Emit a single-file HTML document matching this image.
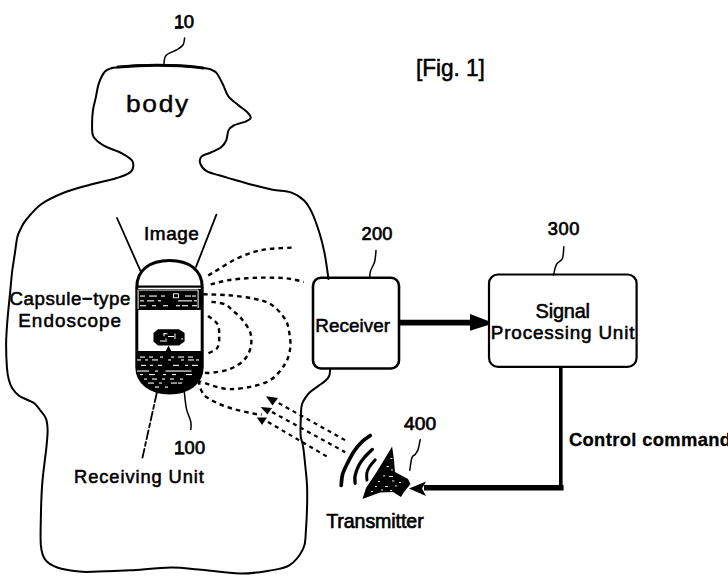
<!DOCTYPE html><html><head><meta charset="utf-8"><style>

html,body{margin:0;padding:0;background:#fff;}
#c{position:relative;width:728px;height:578px;overflow:hidden;background:#fff;}
svg{position:absolute;left:0;top:0;}
.t{position:absolute;transform-origin:0 0;font-family:"Liberation Sans",sans-serif;color:#000;white-space:nowrap;line-height:1;}

</style></head><body><div id="c">
<svg width="728" height="578" viewBox="0 0 728 578">
<g fill="none" stroke="#000" stroke-linecap="round" stroke-linejoin="round">
<path d="M112.0 68.0 C115.8 67.6 127.8 66.1 135.0 65.6 C142.2 65.1 147.5 64.9 155.0 64.9 C162.5 64.9 171.3 65.2 180.0 65.8 C188.7 66.4 201.6 67.7 207.0 68.4 C212.4 69.2 210.8 69.5 212.5 70.3 C214.2 71.1 215.2 71.0 217.0 73.5 C218.8 76.0 221.3 81.2 223.2 85.0 C225.1 88.8 226.0 93.1 228.4 96.4 C230.8 99.7 234.7 102.1 237.8 104.7 C240.9 107.3 244.9 109.8 247.1 112.0 C249.2 114.2 250.9 116.2 250.7 117.8 C250.5 119.3 248.9 120.0 246.1 121.3 C243.2 122.6 236.5 124.0 233.6 125.5 C230.7 127.0 229.6 128.2 228.4 130.6 C227.2 133.0 227.6 137.2 226.4 140.0 C225.2 142.8 223.8 145.2 221.2 147.3 C218.6 149.4 214.1 150.9 210.8 152.5 C207.5 154.1 203.1 154.7 201.4 156.6 C199.7 158.5 199.5 161.5 200.4 163.9 C201.3 166.3 203.5 169.3 206.6 171.2 C209.7 173.1 214.6 173.9 219.1 175.3 C223.6 176.7 228.1 177.9 233.6 179.5 C239.1 181.1 245.4 183.0 251.9 184.7 C258.4 186.4 266.2 188.5 272.7 189.8 C279.2 191.1 285.6 190.7 290.8 192.4 C296.0 194.1 300.3 196.9 303.8 200.2 C307.3 203.4 309.0 206.5 311.6 211.9 C314.2 217.3 317.2 225.8 319.4 232.7 C321.6 239.6 323.1 245.7 324.6 253.4 C326.1 261.1 327.9 274.7 328.5 279.0" stroke-width="2.0"/>
<path d="M330.2 369.5 C330.0 370.6 330.0 374.1 329.2 376.0 C328.4 377.9 327.0 379.4 325.1 381.1 C323.2 382.8 320.6 384.3 318.1 386.1 C315.6 387.9 312.3 390.1 310.1 392.1 C307.9 394.1 306.5 396.1 305.1 398.1 C303.8 400.1 302.7 401.9 302.0 404.2 C301.3 406.5 301.2 407.1 301.0 412.2 C300.8 417.3 300.3 429.4 300.6 434.9 C300.9 440.4 302.1 440.4 302.9 445.4 C303.7 450.4 304.5 457.4 305.2 465.0 C305.9 472.6 307.1 480.0 307.2 491.2 C307.3 502.4 306.5 522.8 305.8 532.4 C305.1 542.0 305.9 543.4 303.1 548.9 C300.4 554.4 295.2 561.7 289.3 565.4 C283.4 569.1 275.6 569.5 267.4 570.9 C259.2 572.3 251.3 573.8 239.9 573.6 C228.5 573.4 210.1 570.5 198.7 569.5 C187.2 568.5 182.6 567.5 171.2 567.6 C159.8 567.7 142.2 569.6 130.0 570.3 C117.8 571.0 106.8 571.4 98.3 571.6 C89.8 571.8 86.0 572.3 79.2 571.6 C72.4 570.9 63.0 569.5 57.3 567.5 C51.6 565.5 47.7 562.9 45.0 559.3 C42.3 555.7 41.6 553.0 40.9 545.7 C40.2 538.4 40.7 526.1 40.9 515.6 C41.1 505.1 41.4 494.2 42.3 482.8 C43.2 471.4 45.5 456.1 46.4 447.3 C47.3 438.5 47.7 434.8 47.6 430.0 C47.5 425.2 47.2 421.6 45.9 418.3 C44.6 415.0 41.9 412.5 40.0 410.0 C38.1 407.5 36.6 405.2 34.6 403.5 C32.6 401.8 30.3 401.3 27.7 400.0 C25.1 398.7 21.6 397.7 19.0 395.7 C16.4 393.7 13.8 390.7 12.1 388.0 C10.4 385.3 9.6 382.8 8.7 379.3 C7.8 375.8 7.3 372.9 6.9 367.1 C6.5 361.3 6.1 351.2 6.1 344.6 C6.1 338.0 6.5 333.6 6.9 327.3 C7.3 321.0 8.1 312.9 8.7 306.6 C9.3 300.3 9.8 295.1 10.4 289.3 C11.0 283.5 11.4 277.8 12.1 272.0 C12.8 266.2 13.8 260.4 14.7 254.6 C15.6 248.8 16.3 241.6 17.3 237.3 C18.3 233.0 19.4 231.6 20.8 228.7 C22.2 225.8 22.6 224.1 26.0 220.0 C29.4 215.9 35.0 208.6 41.5 204.0 C48.0 199.4 56.7 195.6 64.9 192.3 C73.1 189.1 82.2 186.9 90.8 184.5 C99.4 182.1 110.1 180.2 116.8 178.0 C123.5 175.8 128.5 174.3 131.1 171.5 C133.7 168.7 133.9 164.1 132.4 161.1 C130.9 158.1 126.8 156.0 122.0 153.4 C117.2 150.8 108.6 148.4 103.8 145.6 C99.0 142.8 95.4 139.9 93.4 136.5 C91.5 133.1 92.2 129.4 92.1 125.0 C92.0 120.6 92.4 114.4 93.0 110.0 C93.6 105.6 94.6 102.9 95.6 98.4 C96.6 93.9 97.4 87.4 99.0 82.9 C100.6 78.4 102.8 74.0 105.0 71.5 C107.2 69.0 110.8 68.6 112.0 68.0" stroke-width="2.0"/>
<path d="M118 66.9 C135 65.4 160 64.6 180 65.8 C190 66.5 198 67.3 203 68" stroke-width="3"/>
<path d="M184.6 38.0 C184.3 39.2 184.4 43.0 183.0 45.0 C181.6 47.0 179.1 48.3 176.3 50.0 C173.5 51.7 168.1 53.1 166.0 55.4 C163.9 57.7 164.2 62.6 163.9 64.0" stroke-width="1.5"/>
<path d="M376.0 250.4 C375.8 252.2 375.6 258.0 374.7 261.5 C373.8 265.0 371.3 268.4 370.5 271.2 C369.7 273.9 369.8 276.9 369.7 278.0" stroke-width="1.5"/>
<path d="M563.8 246.8 C563.6 248.8 563.6 255.6 562.4 258.5 C561.2 261.4 558.0 261.6 556.5 264.4 C555.0 267.1 554.0 273.2 553.5 275.0" stroke-width="1.5"/>
<path d="M420.2 439.7 C419.9 441.3 418.9 447.0 418.1 449.4 C417.3 451.8 416.3 452.8 415.3 454.2 C414.3 455.6 412.8 455.0 411.9 457.7 C411.0 460.4 410.1 468.1 409.8 470.2" stroke-width="1.5"/>
<path d="M184.2 391.0 C184.6 393.9 185.3 403.5 186.4 408.6 C187.5 413.7 190.1 418.3 190.8 421.8 C191.5 425.3 190.8 428.2 190.8 429.5" stroke-width="1.5"/>
<path d="M117 218 L140.5 271" stroke-width="1.8"/>
<path d="M216.4 214.7 L196 266.9" stroke-width="1.8"/>
<path d="M156.7 393.2 L142.4 458" stroke-width="1.8" stroke-dasharray="9 3 4 3"/>
<path d="M208.2 275.4 C209.8 274.4 213.6 272.2 218.0 269.6 C222.4 267.0 228.8 262.6 234.6 259.7 C240.4 256.8 246.9 254.1 252.7 252.3 C258.5 250.5 262.1 249.8 269.2 249.0 C276.3 248.2 291.1 247.7 295.5 247.4" stroke-width="2.4" stroke-dasharray="4.5 4" stroke-linecap="butt"/>
<path d="M210.7 284.4 C213.6 283.7 221.0 281.4 228.0 280.3 C235.0 279.2 243.9 278.3 252.7 277.9 C261.5 277.5 273.8 277.6 280.7 277.9 C287.6 278.2 290.0 278.8 293.9 279.5 C297.8 280.2 302.1 281.6 303.8 282.0" stroke-width="2.4" stroke-dasharray="4.5 4" stroke-linecap="butt"/>
<path d="M203.2 294.3 C207.3 294.4 219.8 294.5 228.0 295.2 C236.2 295.9 245.6 297.0 252.7 298.5 C259.8 300.0 265.4 300.8 270.8 304.2 C276.2 307.6 281.9 314.2 285.0 319.0 C288.1 323.8 288.4 328.0 289.3 332.9 C290.2 337.8 290.9 343.2 290.2 348.4 C289.5 353.6 288.2 358.8 285.0 364.0 C281.8 369.2 276.6 375.9 271.1 379.6 C265.6 383.4 259.0 384.9 252.1 386.5 C245.2 388.1 236.2 389.2 229.6 389.1 C223.0 389.0 217.2 386.9 212.3 385.6 C207.4 384.3 202.2 382.0 200.2 381.3" stroke-width="2.4" stroke-dasharray="4.5 4" stroke-linecap="butt"/>
<path d="M211.5 301.8 C213.7 302.2 221.1 302.7 224.7 304.2 C228.3 305.7 230.2 308.3 233.0 310.8 C235.8 313.3 238.8 315.3 241.7 319.0 C244.6 322.7 248.9 328.0 250.4 332.9 C251.9 337.8 251.6 343.8 250.4 348.4 C249.2 353.0 246.9 357.1 243.4 360.6 C239.9 364.1 234.8 367.2 229.6 369.2 C224.4 371.2 216.6 372.1 212.3 372.7 C208.0 373.3 205.1 372.7 203.7 372.7" stroke-width="2.4" stroke-dasharray="4.5 4" stroke-linecap="butt"/>
<path d="M208.0 316.0 C209.6 317.4 215.6 320.8 217.5 324.2 C219.4 327.6 219.2 332.4 219.2 336.3 C219.2 340.2 219.4 344.7 217.5 347.6 C215.6 350.5 209.6 352.5 208.0 353.5" stroke-width="2.4" stroke-dasharray="4.5 4" stroke-linecap="butt"/>
<path d="M198.5 380.4 C199.1 382.3 200.2 388.7 201.9 391.7 C203.6 394.7 204.6 396.1 208.8 398.6 C213.0 401.2 219.8 404.6 227.0 407.0 C234.2 409.4 246.0 412.1 251.8 413.3 C257.6 414.6 260.1 414.3 261.7 414.5" stroke-width="2.4" stroke-dasharray="4.5 4" stroke-linecap="butt"/>
<path d="M278.7 403.1 L345.2 440.2" stroke-width="2.2" stroke-dasharray="4 4" stroke-linecap="butt"/>
<path d="M272 412 L345.2 452.2" stroke-width="2.2" stroke-dasharray="4 4" stroke-linecap="butt"/>
<path d="M268 422 L328.6 457.5" stroke-width="2.2" stroke-dasharray="4 4" stroke-linecap="butt"/>
<path d="M370.3 435.5 C369.0 436.4 365.4 438.6 362.7 441.1 C360.0 443.7 356.9 447.1 354.4 450.8 C351.9 454.5 349.5 459.3 347.5 463.2 C345.5 467.1 343.7 470.6 342.6 474.3 C341.6 478.0 341.4 483.5 341.2 485.4" stroke-width="3.7"/>
<path d="M372.4 449.4 C371.0 450.8 366.4 454.9 364.1 457.7 C361.8 460.5 360.0 463.0 358.5 466.0 C357.0 469.0 355.7 472.8 355.1 475.7 C354.5 478.6 355.1 482.0 355.1 483.3" stroke-width="3.3"/>
<path d="M375.2 459.8 C374.3 460.9 371.0 464.5 369.6 466.7 C368.2 468.9 367.3 470.7 366.9 472.9 C366.4 475.1 366.9 478.7 366.9 479.9" stroke-width="3.0"/>
<rect x="313" y="277.8" width="86" height="90.7" rx="8" stroke-width="2.6"/>
<rect x="489" y="274.5" width="147.6" height="92.3" rx="9" stroke-width="2.2"/>
<path d="M560.8 366 L560.8 487.7" stroke-width="3.6" stroke-linecap="butt"/>
<path d="M424 487.7 L563.6 487.7" stroke-width="5.6" stroke-linecap="butt"/>
<path d="M399.5 322.7 L472 322.7" stroke-width="5.8" stroke-linecap="butt"/>
</g>
<rect x="175" y="26.8" width="7" height="2" fill="#000"/>
<rect x="175" y="452.6" width="9.5" height="2" fill="#000"/>
<g fill="#000">
<path d="M470 314 L488.3 321 L488.3 325 L470 330.7 Z"/>
<path d="M409 488.5 L426 481.5 L422 488.5 L426 496 Z"/>
<path d="M265.9 396.3 L278 398 L272.5 405.5 Z"/>
<path d="M260.6 406.9 L272 408 L267.4 414.5 Z"/>
<path d="M256.8 417.5 L267 417.5 L262 425 Z"/>
<path d="M392.1 446.5 L394 460 L395 472 L408 479 L410.5 484 L404 492 L401 497 L393 492 L380 492.5 L362.5 499 L366 488 L376 473 L384 460 Z"/>
<g fill="#fff"><rect x="390.5" y="458.0" width="2.0" height="0.9"/><rect x="386.5" y="466.0" width="2.5" height="0.9"/><rect x="391.0" y="469.5" width="2.0" height="0.9"/><rect x="383.0" y="475.5" width="2.0" height="0.9"/><rect x="389.0" y="476.0" width="4.0" height="0.9"/><rect x="378.0" y="481.0" width="2.0" height="0.9"/><rect x="392.0" y="480.5" width="2.5" height="0.9"/><rect x="399.0" y="482.0" width="2.0" height="0.9"/><rect x="375.0" y="486.0" width="2.0" height="0.9"/><rect x="385.0" y="486.0" width="3.0" height="0.9"/><rect x="395.0" y="485.5" width="2.0" height="0.9"/><rect x="371.0" y="491.0" width="2.0" height="0.9"/><rect x="381.0" y="489.5" width="2.0" height="0.9"/><rect x="390.0" y="490.0" width="2.0" height="0.9"/></g>
</g>
<g>
<path d="M136.8 287 C136.8 270 150 260.5 169.5 260.5 C189 260.5 202.2 270 202.2 287 L202.2 367 C202.2 383 188 393 169.5 393 C151 393 136.8 383 136.8 367 Z" fill="#fff" stroke="#000" stroke-width="3"/>
<rect x="136" y="285.5" width="67" height="2.2" fill="#000"/>
<rect x="136" y="289" width="67" height="21" fill="#000"/>
<path d="M136 351 L203 351 L203 367 C203 383 188 393.5 169.5 393.5 C151 393.5 136 383 136 367 Z" fill="#000"/>
<path d="M153.5 333 L158 329.2 L179 329.2 L184.6 333 L184.6 341.5 L179 345.6 L158 345.6 L153.5 341.5 Z" fill="#000"/>
<path d="M165.5 351.5 L168.5 345.5 L171.5 351.5 Z" fill="#000"/>
<g fill="#fff"><rect x="137.6" y="289.6" width="1.0" height="19.5"/><rect x="197.6" y="290.0" width="1.0" height="18.0"/><rect x="139.0" y="289.6" width="59.0" height="0.9"/><rect x="140.0" y="295.5" width="5.0" height="1.1"/><rect x="149.0" y="295.5" width="8.0" height="1.1"/><rect x="161.0" y="295.5" width="4.0" height="1.1"/><rect x="185.0" y="295.5" width="6.0" height="1.1"/><rect x="192.0" y="295.5" width="4.0" height="1.1"/><rect x="140.0" y="300.3" width="4.0" height="1.1"/><rect x="147.0" y="300.3" width="7.0" height="1.1"/><rect x="158.0" y="300.3" width="3.0" height="1.1"/><rect x="178.0" y="300.3" width="14.0" height="1.1"/><rect x="194.0" y="300.3" width="3.0" height="1.1"/><rect x="140.0" y="305.2" width="6.0" height="1.1"/><rect x="152.0" y="305.2" width="4.0" height="1.1"/><rect x="163.0" y="305.2" width="5.0" height="1.1"/><rect x="176.0" y="305.2" width="4.0" height="1.1"/><rect x="182.0" y="305.2" width="6.0" height="1.1"/><rect x="192.0" y="305.2" width="5.0" height="1.1"/><rect x="173.5" y="293.8" width="5" height="4" fill="none" stroke="#fff" stroke-width="0.9"/><rect x="163.5" y="333.2" width="4.0" height="1.0"/><rect x="163.5" y="333.2" width="1.0" height="3.0"/><rect x="168.0" y="336.0" width="6.0" height="1.0"/><rect x="174.5" y="333.5" width="1.0" height="5.5"/><rect x="160.0" y="340.5" width="5.0" height="1.0"/><rect x="165.5" y="338.5" width="1.0" height="3.5"/><rect x="181.5" y="338.0" width="1.0" height="2.0"/><rect x="140.0" y="356.5" width="5.0" height="1.1"/><rect x="149.0" y="356.5" width="4.0" height="1.1"/><rect x="160.0" y="356.5" width="3.0" height="1.1"/><rect x="171.0" y="356.5" width="3.0" height="1.1"/><rect x="178.0" y="356.5" width="6.0" height="1.1"/><rect x="188.0" y="356.5" width="5.0" height="1.1"/><rect x="137.0" y="359.4" width="4.0" height="1.1"/><rect x="145.0" y="359.4" width="3.0" height="1.1"/><rect x="152.0" y="359.4" width="6.0" height="1.1"/><rect x="168.0" y="359.4" width="3.0" height="1.1"/><rect x="181.0" y="359.4" width="3.0" height="1.1"/><rect x="188.0" y="359.4" width="6.0" height="1.1"/><rect x="196.0" y="359.4" width="3.0" height="1.1"/><rect x="141.0" y="364.8" width="5.0" height="1.1"/><rect x="150.0" y="364.8" width="3.0" height="1.1"/><rect x="158.0" y="364.8" width="4.0" height="1.1"/><rect x="173.0" y="364.8" width="6.0" height="1.1"/><rect x="185.0" y="364.8" width="3.0" height="1.1"/><rect x="192.0" y="364.8" width="6.0" height="1.1"/><rect x="137.0" y="370.5" width="12.0" height="1.1"/><rect x="155.0" y="370.5" width="3.0" height="1.1"/><rect x="165.5" y="370.5" width="26.0" height="1.1"/><rect x="140.0" y="374.0" width="3.0" height="1.1"/><rect x="149.0" y="374.0" width="6.0" height="1.1"/><rect x="163.0" y="374.0" width="3.0" height="1.1"/><rect x="172.0" y="374.0" width="4.0" height="1.1"/><rect x="186.0" y="374.0" width="6.0" height="1.1"/><rect x="144.0" y="378.5" width="3.0" height="1.1"/><rect x="152.0" y="378.5" width="5.0" height="1.1"/><rect x="162.0" y="378.5" width="3.0" height="1.1"/><rect x="170.0" y="378.5" width="4.0" height="1.1"/><rect x="180.0" y="378.5" width="3.0" height="1.1"/><rect x="148.0" y="382.5" width="6.0" height="1.1"/><rect x="159.0" y="382.5" width="3.0" height="1.1"/><rect x="171.0" y="382.5" width="6.0" height="1.1"/><rect x="178.0" y="382.5" width="4.0" height="1.1"/><rect x="155.0" y="386.5" width="4.0" height="1.1"/><rect x="165.0" y="386.5" width="3.0" height="1.1"/></g>
</g>
</svg>
<div class="t" style="left:173.90px;top:13.46px;font-size:18.51px;font-weight:normal;letter-spacing:-0.42px;-webkit-text-stroke:0.70px #000;transform:scaleX(1.000);">10</div>
<div class="t" style="left:415.75px;top:56.15px;font-size:24.65px;font-weight:normal;letter-spacing:-0.09px;-webkit-text-stroke:0.55px #000;transform:scaleX(0.920);">[Fig. 1]</div>
<div class="t" style="left:126.30px;top:93.35px;font-size:23.53px;font-weight:normal;letter-spacing:1.52px;-webkit-text-stroke:0.40px #000;transform:scaleX(1.120);">body</div>
<div class="t" style="left:144.48px;top:226.27px;font-size:17.52px;font-weight:normal;letter-spacing:0.53px;-webkit-text-stroke:0.55px #000;transform:scaleX(1.080);">Image</div>
<div class="t" style="left:9.46px;top:290.11px;font-size:18.71px;font-weight:normal;letter-spacing:0.55px;-webkit-text-stroke:0.55px #000;transform:scaleX(1.000);">Capsule&minus;type</div>
<div class="t" style="left:18.24px;top:311.78px;font-size:18.88px;font-weight:normal;letter-spacing:1.04px;-webkit-text-stroke:0.55px #000;transform:scaleX(1.000);">Endoscope</div>
<div class="t" style="left:361.61px;top:225.17px;font-size:18.24px;font-weight:normal;letter-spacing:0.17px;-webkit-text-stroke:0.70px #000;transform:scaleX(1.000);">200</div>
<div class="t" style="left:315.25px;top:316.75px;font-size:18.80px;font-weight:normal;letter-spacing:0.10px;-webkit-text-stroke:0.55px #000;transform:scaleX(1.000);">Receiver</div>
<div class="t" style="left:547.75px;top:220.37px;font-size:18.24px;font-weight:normal;letter-spacing:0.58px;-webkit-text-stroke:0.70px #000;transform:scaleX(1.000);">300</div>
<div class="t" style="left:535.60px;top:302.49px;font-size:19.93px;font-weight:normal;letter-spacing:-0.19px;-webkit-text-stroke:0.55px #000;transform:scaleX(1.000);">Signal</div>
<div class="t" style="left:490.84px;top:324.28px;font-size:18.88px;font-weight:normal;letter-spacing:0.82px;-webkit-text-stroke:0.55px #000;transform:scaleX(1.000);">Processing Unit</div>
<div class="t" style="left:568.90px;top:430.61px;font-size:18.36px;font-weight:bold;letter-spacing:0.36px;-webkit-text-stroke:0.30px #000;transform:scaleX(1.000);">Control command</div>
<div class="t" style="left:404.00px;top:413.85px;font-size:19.19px;font-weight:normal;letter-spacing:0.10px;-webkit-text-stroke:0.70px #000;transform:scaleX(1.000);">400</div>
<div class="t" style="left:326.20px;top:512.41px;font-size:19.58px;font-weight:normal;letter-spacing:-0.08px;-webkit-text-stroke:0.65px #000;transform:scaleX(1.000);">Transmitter</div>
<div class="t" style="left:174.01px;top:439.37px;font-size:18.24px;font-weight:normal;letter-spacing:0.42px;-webkit-text-stroke:0.70px #000;transform:scaleX(1.000);">100</div>
<div class="t" style="left:74.05px;top:468.25px;font-size:18.30px;font-weight:normal;letter-spacing:0.92px;-webkit-text-stroke:0.55px #000;transform:scaleX(1.000);">Receiving Unit</div>
</div></body></html>
